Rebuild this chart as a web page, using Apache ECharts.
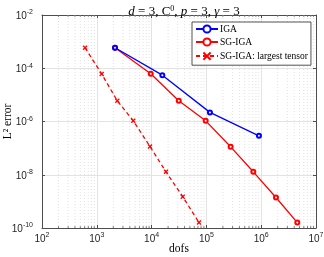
<!DOCTYPE html>
<html><head><meta charset="utf-8">
<script src="https://cdn.jsdelivr.net/npm/echarts@6/dist/echarts.min.js"></script>
<style>html,body{margin:0;padding:0;background:#fff}#c{width:324px;height:257px}</style>
</head><body><div id="c"></div>
<script>
var igaDofs = [2150, 15700, 116000, 910000];
var igaErr = [5.9e-4, 5.5e-5, 2.2e-6, 2.9e-7];
var sgDofs = [2150, 9640, 31300, 97000, 277000, 718000, 1860000, 4560000];
var sgErr = [5.9e-4, 6.2e-5, 6.0e-6, 1.06e-6, 1.12e-7, 1.29e-8, 1.4e-9, 1.6e-10];
var ltDofs = [610, 1228, 2366, 4634, 9350, 18300, 37000, 73300];
var ltErr = [5.9e-4, 6.1e-5, 6.0e-6, 1.06e-6, 1.15e-7, 1.29e-8, 1.5e-9, 1.6e-10];
var seriesNames = ['IGA', 'SG-IGA', 'SG-IGA: largest tensor'];

function pairs(xs, ys){ return xs.map(function(x,i){return [x, ys[i]];}); }
var minorX = [];
for (var e = 2; e < 7; e++) { for (var k = 2; k <= 9; k++) minorX.push([k * Math.pow(10, e)]); }

function expLabel(v){
  var ex = Math.round(Math.log10(v));
  return '{b|10}{s|' + ex + '}';
}
var labelRich = {
  b: {fontFamily: 'Liberation Sans', fontSize: 10, color: '#262626', verticalAlign: 'bottom', lineHeight: 12},
  s: {fontFamily: 'Liberation Sans', fontSize: 7, color: '#262626', verticalAlign: 'top', padding: [0,0,6,0], lineHeight: 12}
};
var serif = 'Liberation Serif';
var axisCol = '#4d4d4d';

var chart = echarts.init(document.getElementById('c'), null, {renderer: 'canvas'});
chart.setOption({
  animation: false,
  title: {
    text: '{i|d} = 3, C{s|0}, {i|p} = 3, {i|γ} = 3',
    left: 179, textAlign: 'center', top: 0,
    textStyle: {
      fontFamily: serif, fontSize: 13, fontWeight: 'normal', color: '#000',
      rich: {
        i: {fontFamily: serif, fontSize: 13, fontStyle: 'italic', color: '#000'},
        s: {fontFamily: serif, fontSize: 8, color: '#000', verticalAlign: 'top', padding: [0,0,6,0]}
      }
    }
  },
  grid: {left: 42, right: 8, top: 15, bottom: 29, containLabel: false, outerBoundsMode: 'none'},
  legend: {
    data: seriesNames,
    orient: 'vertical', left: 192, top: 22,
    backgroundColor: '#fff', borderColor: '#262626', borderWidth: 0.8,
    padding: [2, 3, 3, 3], itemGap: 3, itemWidth: 22, itemHeight: 9,
    textStyle: {fontFamily: serif, fontSize: 9.5, color: '#000', padding: [0,0,0,-3]}
  },
  xAxis: [{
    type: 'log', logBase: 10, min: 100, max: 1e7,
    name: 'dofs', nameLocation: 'middle', nameGap: 15, nameMoveOverlap: false,
    nameTextStyle: {fontFamily: serif, fontSize: 11.5, color: '#000', verticalAlign: 'top'},
    axisLine: {show: true, lineStyle: {color: axisCol, width: 1}},
    axisTick: {show: true, inside: true, length: 3, lineStyle: {color: axisCol}},
    axisLabel: {formatter: expLabel, rich: labelRich, margin: 4},
    splitLine: {show: true, lineStyle: {color: '#e3e3e3', width: 1}},
    minorTick: {show: false}, minorSplitLine: {show: false}
  }, {
    type: 'log', logBase: 10, min: 100, max: 1e7, position: 'top',
    axisLine: {show: true, lineStyle: {color: axisCol, width: 1}},
    axisTick: {show: true, inside: true, length: 3, lineStyle: {color: axisCol}},
    axisLabel: {show: false}, splitLine: {show: false}
  }],
  yAxis: [{
    type: 'log', logBase: 10, min: 1e-10, max: 1e-2, interval: 2,
    name: 'L² error', nameLocation: 'middle', nameGap: 28, nameRotate: 90, nameMoveOverlap: false,
    nameTextStyle: {fontFamily: serif, fontSize: 11.5, color: '#000'},
    axisLine: {show: true, lineStyle: {color: axisCol, width: 1}},
    axisTick: {show: true, inside: true, length: 3, lineStyle: {color: axisCol}},
    axisLabel: {formatter: expLabel, rich: labelRich, margin: 9},
    splitLine: {show: true, lineStyle: {color: '#e3e3e3', width: 1}}
  }, {
    type: 'log', logBase: 10, min: 1e-10, max: 1e-2, interval: 2, position: 'right',
    axisLine: {show: true, lineStyle: {color: axisCol, width: 1}},
    axisTick: {show: true, inside: true, length: 3, lineStyle: {color: axisCol}},
    axisLabel: {show: false}, splitLine: {show: false}
  }],
  series: [{
    type: 'custom', name: 'minor', silent: true, z: 1,
    xAxisIndex: 0, yAxisIndex: 0,
    data: minorX,
    renderItem: function(params, api){
      var x = api.value(0);
      var top = api.coord([x, 1e-2]);
      var bot = api.coord([x, 1e-10]);
      return {type: 'group', children: [
        {type: 'line', shape: {x1: top[0], y1: top[1], x2: bot[0], y2: bot[1]},
         style: {stroke: '#dadada', lineWidth: 0.8, lineDash: [1, 2]}},
        {type: 'line', shape: {x1: bot[0], y1: bot[1], x2: bot[0], y2: bot[1] - 1.8},
         style: {stroke: axisCol, lineWidth: 0.8}},
        {type: 'line', shape: {x1: top[0], y1: top[1], x2: top[0], y2: top[1] + 1.8},
         style: {stroke: axisCol, lineWidth: 0.8}}
      ]};
    }
  }, {
    name: seriesNames[0], type: 'line', data: pairs(igaDofs, igaErr), z: 5,
    symbol: 'emptyCircle', symbolSize: 4,
    lineStyle: {color: '#0000ff', width: 1.3},
    itemStyle: {color: '#0000ff', borderColor: '#0000ff', borderWidth: 1.3}
  }, {
    name: seriesNames[1], type: 'line', data: pairs(sgDofs, sgErr), z: 4,
    symbol: 'emptyCircle', symbolSize: 4,
    lineStyle: {color: '#ff0000', width: 1.3},
    itemStyle: {color: '#ff0000', borderColor: '#ff0000', borderWidth: 1.3}
  }, {
    name: seriesNames[2], type: 'line', data: pairs(ltDofs, ltErr), z: 4,
    symbol: 'path://M0,0L10,10M10,0L0,10', symbolSize: 4,
    lineStyle: {color: '#ff0000', width: 1.3, type: [4, 3]},
    itemStyle: {color: 'none', borderColor: '#ff0000', borderWidth: 1.3}
  }]
});
</script></body></html>
